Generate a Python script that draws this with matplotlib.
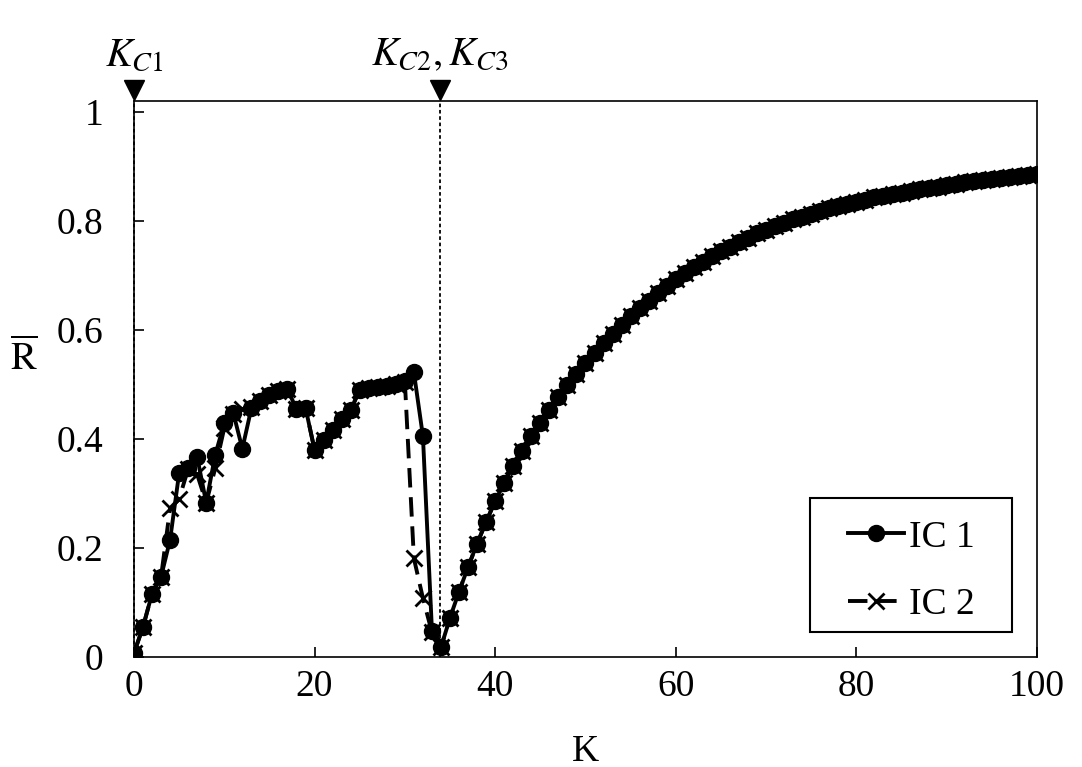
'''R-bar versus coupling K for two initial conditions'''

import matplotlib
matplotlib.use('Agg')
import matplotlib.pyplot as plt
import matplotlib.transforms as mtransforms
from matplotlib.patches import Rectangle

plt.rcParams['font.family'] = ['Liberation Serif', 'DejaVu Serif']
plt.rcParams['mathtext.fontset'] = 'stix'

K = list(range(0, 101))

# IC 1, K = 0..33
ic1_low = [0.007, 0.055, 0.116, 0.147, 0.215, 0.337, 0.347, 0.367, 0.283, 0.371,
           0.429, 0.448, 0.382, 0.456, 0.470, 0.480, 0.488, 0.491, 0.455, 0.457,
           0.380, 0.398, 0.416, 0.436, 0.453, 0.490, 0.493, 0.495, 0.497, 0.500,
           0.507, 0.522, 0.405, 0.048]
# K = 34..100 (both curves coincide here)
r_high = [0.018, 0.072, 0.120, 0.165, 0.208, 0.248, 0.286, 0.320, 0.350, 0.378,
          0.405, 0.430, 0.454, 0.477, 0.499, 0.520, 0.540, 0.558, 0.576, 0.593,
          0.609, 0.625, 0.640, 0.654, 0.668, 0.681, 0.693, 0.704, 0.715, 0.725,
          0.735, 0.744, 0.753, 0.761, 0.769, 0.777, 0.784, 0.791, 0.797, 0.803,
          0.808, 0.813, 0.818, 0.823, 0.827, 0.831, 0.835, 0.839, 0.843, 0.846,
          0.849, 0.852, 0.855, 0.858, 0.861, 0.863, 0.866, 0.868, 0.871, 0.873,
          0.875, 0.877, 0.879, 0.881, 0.883, 0.885, 0.887]

# IC 2, K = 0..33
ic2_low = [0.007, 0.055, 0.116, 0.147, 0.273, 0.290, 0.345, 0.335, 0.283, 0.346,
           0.420, 0.445, 0.455, 0.458, 0.470, 0.480, 0.488, 0.491, 0.455, 0.457,
           0.380, 0.398, 0.416, 0.436, 0.453, 0.490, 0.493, 0.495, 0.497, 0.500,
           0.505, 0.181, 0.108, 0.045]

ic1 = ic1_low + r_high
ic2 = ic2_low + r_high

k_c1 = 0.0
k_c23 = 33.9

fig = plt.figure(figsize=(10.82, 7.67), dpi=100)
ax = fig.add_axes([0.1238, 0.1434, 0.8346, 0.7249])

ax.plot(K, ic1, '-', color='black', lw=2.8, marker='o', ms=11.5, label='IC 1', zorder=4)
ax.plot(K, ic2, color='black', lw=2.8, ls=(0, (5, 2.5)), marker='x', ms=11,
        mew=2.0, label='IC 2', zorder=3)

# critical coupling markers
trans = mtransforms.blended_transform_factory(ax.transData, ax.transAxes)
for kc in (k_c1, k_c23):
    ax.plot([kc, kc], [0, 1], transform=trans, color='black', lw=1.3,
            ls=(0, (2, 1.5)), clip_on=False, zorder=5)
    ax.plot([kc], [1.02], transform=trans, marker='v', color='black', ms=15,
            clip_on=False, zorder=6)
ax.text(k_c1, 1.048, r'$K_{C1}$', transform=trans, ha='center', va='bottom', fontsize=29)
ax.text(k_c23, 1.048, r'$K_{C2},K_{C3}$', transform=trans, ha='center', va='bottom',
        fontsize=29)

ax.set_xlim(0, 100)
ax.set_ylim(0, 1.02)
ax.set_xticks([0, 20, 40, 60, 80, 100])
ax.set_yticks([0, 0.2, 0.4, 0.6, 0.8, 1])
ax.set_yticklabels(['0', '0.2', '0.4', '0.6', '0.8', '1'])
ax.tick_params(direction='in', length=7, width=1.2, labelsize=27, top=False, right=False)
ax.tick_params(axis='y', pad=22)
ax.tick_params(axis='x', pad=9)
for s in ax.spines.values():
    s.set_linewidth(1.2)

ax.set_xlabel('K', fontsize=27, labelpad=22)
ax.set_ylabel(r'$\overline{\mathrm{R}}$', fontsize=28, rotation=0)
ax.yaxis.set_label_coords(-0.122, 0.5)

# legend: frame drawn separately so its size matches the original box
ax.add_patch(Rectangle((0.749, 0.045), 0.223, 0.241, transform=ax.transAxes,
                       facecolor='white', edgecolor='black', lw=1.5, zorder=9))
leg = ax.legend(loc='center', bbox_to_anchor=(0.861, 0.155), borderaxespad=0,
                fontsize=27, frameon=False, handlelength=1.5, handletextpad=0.13,
                labelspacing=0.87, borderpad=0)
leg.set_zorder(10)

plt.savefig('out.png', dpi=100)
plt.close()
